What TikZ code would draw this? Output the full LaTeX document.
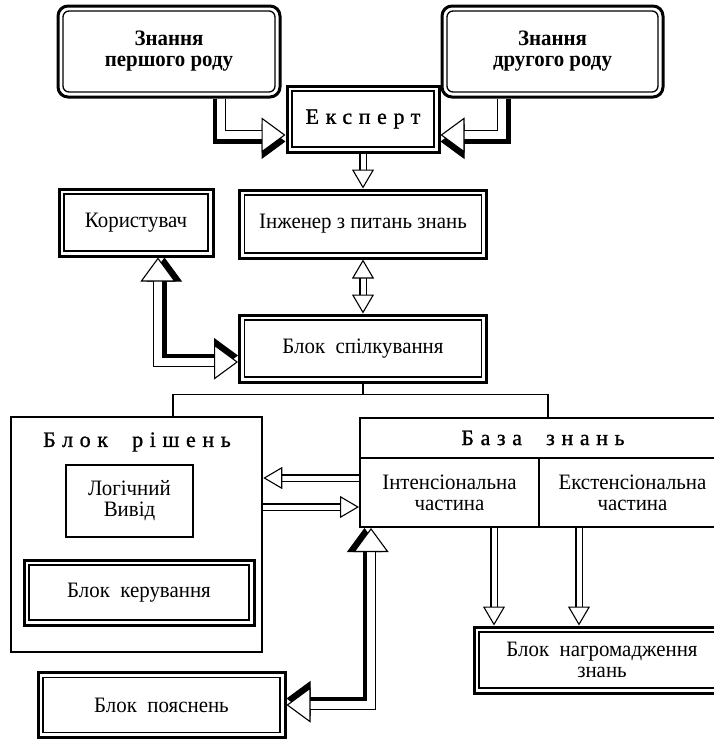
\documentclass[tikz,border=0pt]{standalone}
\usepackage{fontspec}
\setmainfont{Liberation Serif}[FakeStretch=0.95]
\newfontfamily\spacedfont{Liberation Serif}[LetterSpace=30, FakeBold=1]
\usetikzlibrary{arrows.meta}

\tikzset{
  big/.tip={Triangle[fill=white, line width=1.1pt, length=24pt, width=35pt]},
  small/.tip={Triangle[fill=white, line width=1.1pt, length=19pt, width=22pt]},
  bigedge/.tip={Triangle[line width=1pt, length=24pt, width=35pt]},
  thin arrow/.style={line width=1.1pt, double distance=5pt},
  heavy arrow/.style={line width=1.1pt, double distance=8pt},
  thick edge/.style={line width=4pt},
  box/.style={draw, line width=2pt, fill=white, align=center, inner sep=0pt},
  dbox/.style={box, line width=3pt, path picture={
      \draw[line width=1.3pt] ([shift={(5pt,-5pt)}]path picture bounding box.north west)
        rectangle ([shift={(-5pt,5pt)}]path picture bounding box.south east);}},
  kbox/.style={box, line width=3pt, rounded corners=10pt,
    font=\bfseries\fontsize{22}{21}\selectfont, path picture={
      \draw[line width=1.3pt, rounded corners=6pt] ([shift={(5pt,-5pt)}]path picture bounding box.north west)
        rectangle ([shift={(-5pt,5pt)}]path picture bounding box.south east);}},
}

\begin{document}
\begin{tikzpicture}[x=1pt, y=-1pt, every node/.style={font=\fontsize{22}{21}\selectfont}]
  \useasboundingbox (0,0) rectangle (714,740);

  \node[kbox, minimum width=222pt, minimum height=91pt] (k1) at (169,51.5) {Знання\\першого роду};
  \node[kbox, minimum width=221pt, minimum height=91pt] (k2) at (552.5,51.5) {Знання\\другого роду};
  \node[dbox, minimum width=152pt, minimum height=66pt, font=\spacedfont\fontsize{22}{22}\selectfont] (expert) at (363,119) {Експерт};
  \node[dbox, minimum width=247pt, minimum height=68pt] (eng) at (363,224) {Інженер з питань знань};
  \node[dbox, minimum width=154pt, minimum height=67pt] (user) at (136,222.5) {Користувач};
  \node[dbox, minimum width=247pt, minimum height=67pt] (comm) at (363,348.5) {Блок\ \ спілкування};

  \node[box, line width=2.5pt, minimum width=251pt, minimum height=235pt] (decide) at (136.5,534.5) {};
  \node[font=\spacedfont\fontsize{22}{22}\selectfont] (dtitle) at (137,442) {Блок\ \ рішень};
  \node[box, minimum width=127pt, minimum height=72pt] (logic) at (129.5,501) {Логічний\\Вивід};
  \node[dbox, minimum width=230pt, minimum height=65pt] (control) at (139,592.5) {Блок\ \ керування};
  \node[dbox, minimum width=247pt, minimum height=65pt] (explain) at (161.5,705) {Блок\ \ пояснень};

  \node[box, minimum width=366pt, minimum height=40pt, font=\spacedfont\fontsize{22}{22}\selectfont] (kbhead) at (543,438) {База\ \ знань};
  \node[box, minimum width=179pt, minimum height=69pt] (intens) at (449.5,492.5) {Інтенсіональна\\частина};
  \node[box, minimum width=187pt, minimum height=69pt] (extens) at (632.5,492.5) {Екстенсіональна\\частина};
  \node[dbox, minimum width=256pt, minimum height=66pt] (accum) at (602,660) {Блок\ \ нагромадження\\знань};

  \draw[thick edge, -bigedge] ([xshift=45.5pt]k1.south) |- ([yshift=-22.5pt]expert.west);
  \draw[heavy arrow, -big] ([xshift=52pt]k1.south) |- ([yshift=-16pt]expert.west);
  \draw[thick edge, -bigedge] ([xshift=-44pt]k2.south) |- ([yshift=-22.5pt]expert.east);
  \draw[heavy arrow, -big] ([xshift=-50.5pt]k2.south) |- ([yshift=-16pt]expert.east);
  \draw[thin arrow, -small] (expert.south) -- (eng.north);
  \draw[thin arrow, small-small] (eng.south) -- (comm.north);
  \draw[thick edge, bigedge-bigedge] ([xshift=28.5pt]user.south) |- ([yshift=-7pt]comm.west);
  \draw[heavy arrow, big-big] ([xshift=22pt]user.south) |- ([yshift=-13.5pt]comm.west);

  \draw[line width=1.3pt] (comm.south) -- ++(0,11) coordinate (hub);
  \draw[line width=1.3pt] (hub) -| ([xshift=36.5pt]decide.north);
  \draw[line width=1.3pt] (hub) -| ([xshift=5pt]kbhead.north);

  \coordinate (kbout) at ([yshift=14.5pt]intens.west);
  \coordinate (kbin) at ([yshift=-14.5pt]intens.west);
  \draw[thin arrow, -small] (kbout) -- (kbout -| decide.east);
  \draw[thin arrow, -small] (kbin -| decide.east) -- (kbin);

  \draw[thick edge, bigedge-bigedge] ([xshift=5.5pt]intens.south west) |- ([yshift=6.5pt]explain.east);
  \draw[heavy arrow, big-big] ([xshift=12pt]intens.south west) |- (explain.east);

  \coordinate (d1) at ([xshift=-46pt]intens.south east);
  \coordinate (d2) at ([xshift=41pt]extens.south west);
  \draw[thin arrow, -small] (d1) -- (d1 |- accum.north);
  \draw[thin arrow, -small] (d2) -- (d2 |- accum.north);
\end{tikzpicture}
\end{document}
